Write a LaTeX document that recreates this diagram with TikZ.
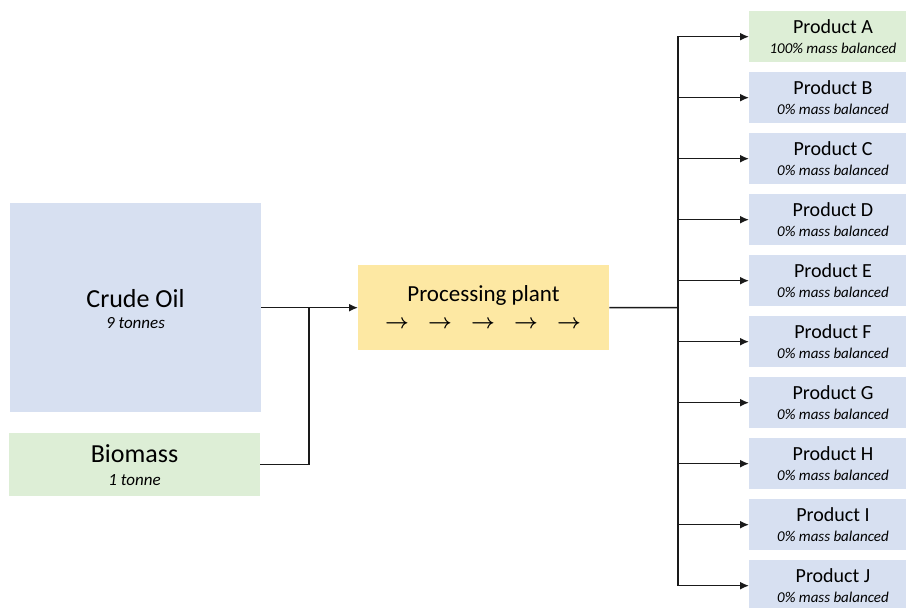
\documentclass[tikz,border=0pt]{standalone}
\usepackage{fontspec}
\setmainfont{Carlito}
\usetikzlibrary{arrows.meta}
\definecolor{boxblue}{HTML}{D7E0F1}
\definecolor{boxgreen}{HTML}{DDEED6}
\definecolor{boxyellow}{HTML}{FDE8A3}
\definecolor{linecol}{HTML}{1A1A1A}
\begin{document}
\begin{tikzpicture}[x=1pt,y=-1pt,
  box/.style={draw=none, rectangle, inner sep=0pt, anchor=north west},
  conn/.style={draw=linecol, line width=1.5pt},
  arr/.style={conn, -{Latex[length=9pt,width=8pt]}},
  bigname/.style={font=\fontsize{26}{30}\selectfont, anchor=base, inner sep=0pt},
  bigsub/.style={font=\fontsize{17}{20}\selectfont\itshape, anchor=base, inner sep=0pt},
  prodname/.style={font=\fontsize{20}{24}\selectfont, anchor=base, inner sep=0pt},
  prodsub/.style={font=\fontsize{15}{18}\selectfont\itshape, anchor=base, inner sep=0pt},
  flowarrow/.style={font=\fontsize{21}{24}\selectfont\boldmath, inner sep=0pt}]
\useasboundingbox (0,0) rectangle (906,608);
% input boxes
\node[box, fill=boxblue, minimum width=251pt, minimum height=209pt] (crude) at (10,203) {};
\node[bigname] (crudet) at (135.5,307) {Crude Oil};
\node[bigsub] (crudes) at (135.5,328) {9 tonnes};
\node[box, fill=boxgreen, minimum width=251pt, minimum height=63pt] (bio) at (9,433) {};
\node[bigname] (biot) at (134.5,462) {Biomass};
\node[bigsub] (bios) at (134.5,485) {1 tonne};
% processing plant
\node[box, fill=boxyellow, minimum width=251pt, minimum height=85pt] (proc) at (358,265) {};
\node[font=\fontsize{23}{26}\selectfont, anchor=base, inner sep=0pt] (proct) at (483.5,301) {Processing plant};
\foreach \i/\xx in {1/397,2/440,3/483,4/526,5/569}{
  \node[flowarrow] (pa\i) at (\xx,324) {$\rightarrow$};
}
% products
\foreach \i/\L in {0/A,1/B,2/C,3/D,4/E,5/F,6/G,7/H,8/I,9/J}{
  \pgfmathsetmacro{\top}{11+61*\i}
  \ifnum\i=0
    \node[box, fill=boxgreen, minimum width=157pt, minimum height=51pt] (p\L) at (749,\top) {};
  \else
    \node[box, fill=boxblue, minimum width=157pt, minimum height=51pt] (p\L) at (749,\top) {};
  \fi
  \node[prodname] (p\L t) at (833,\top+22) {Product \L};
}
\node[prodsub] (pAs) at (833,53) {100\% mass balanced};
\foreach \i/\L in {1/B,2/C,3/D,4/E,5/F,6/G,7/H,8/I,9/J}{
  \pgfmathsetmacro{\sb}{53+61*\i}
  \node[prodsub] (p\L s) at (833,\sb) {0\% mass balanced};
}
% connectors
\coordinate (join) at (309,307.5);
\coordinate (trunk) at (678,307.5);
\draw[arr] (crude.east) -- (proc.west);
\draw[conn] (bio.east) -| (join);
\draw[conn] (proc.east) -- (trunk);
\foreach \L in {A,B,C,D,E,F,G,H,I,J}{
  \draw[arr] (trunk) |- (p\L.west);
}
\end{tikzpicture}
\end{document}
